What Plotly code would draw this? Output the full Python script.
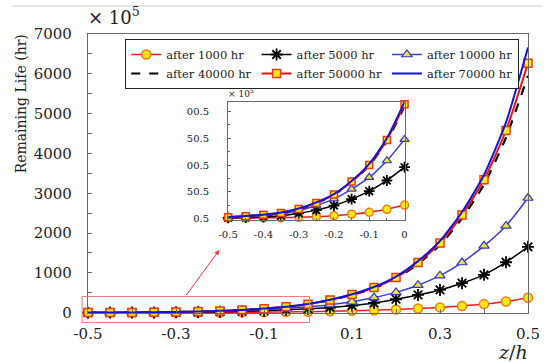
import plotly.graph_objects as go

# ---------------- data ----------------
z = [-0.5, -0.45, -0.4, -0.35, -0.3, -0.25, -0.2, -0.15, -0.1, -0.05, 0.0,
     0.05, 0.1, 0.15, 0.2, 0.25, 0.3, 0.35, 0.4, 0.45, 0.5]

life_1000 = [0.5, 0.7, 1.0, 1.4, 2.0, 3.2, 5.0, 7.8, 11.5, 17, 25,
             35, 48, 63, 82, 104, 133, 168, 215, 280, 375]
life_5000 = [1, 1.5, 2.5, 5, 9.5, 15.5, 24, 36, 51, 71, 96,
             130, 178, 245, 338, 446, 572, 741, 950, 1267, 1655]
life_10000 = [1.5, 2.5, 4.5, 8.5, 14.5, 24, 36.5, 55, 77, 108, 148,
              200, 275, 380, 510, 690, 930, 1260, 1680, 2180, 2880]
life_40000 = [2, 4, 6.5, 10, 17.5, 28.5, 44, 68, 99, 145, 210,
              312, 445, 615, 860, 1225, 1700, 2370, 3220, 4400, 5950]
life_50000 = [2.2, 4.1, 6.6, 10.3, 17.8, 29, 44.6, 69, 100, 147, 214,
              320, 455, 630, 882, 1260, 1748, 2453, 3338, 4576, 6265]
life_70000 = [2.5, 4.5, 7, 11, 18.5, 30, 45.5, 70, 102, 150, 218,
              326, 465, 645, 905, 1295, 1800, 2530, 3460, 4780, 6660]

names = ["after 1000 hr", "after 5000 hr", "after 10000 hr",
         "after 40000 hr", "after 50000 hr", "after 70000 hr"]

main_yticks = [0, 1000, 2000, 3000, 4000, 5000, 6000, 7000]
main_xticks = [-0.5, -0.3, -0.1, 0.1, 0.3, 0.5]
inset_xticks = [-0.5, -0.4, -0.3, -0.2, -0.1, 0]
inset_yticks = [0, 50, 100, 150, 200]
inset_yticktext = ["0.5", "50.5", "00.5", "50.5", "00.5"]

# ---------------- layout geometry (pixels) ----------------
W, H = 552, 362
L, R, T, B = 88, 537, 34, 313
pw, ph = R - L, B - T


def px(x):
    return (x - L) / pw


def py(y):
    return (B - y) / ph


SERIF = "DejaVu Serif"
YEL = "#ffe81a"

styles = [
    dict(line=dict(color="#ee1c1c", width=1.5),
         marker=dict(symbol="circle", size=9, color=YEL,
                     line=dict(color="#f07a10", width=1.5))),
    dict(line=dict(color="black", width=1.5),
         marker=dict(symbol="asterisk", size=10, color="black",
                     line=dict(color="black", width=1.8))),
    dict(line=dict(color="#3b3bdc", width=1.5),
         marker=dict(symbol="triangle-up", size=9, color="#e9e23a",
                     line=dict(color="#3535c8", width=1.2))),
    dict(line=dict(color="black", width=2.2, dash="dash"),
         marker=None),
    dict(line=dict(color="#ee1010", width=2),
         marker=dict(symbol="square", size=8, color=YEL,
                     line=dict(color="#ea3a10", width=1.5))),
    dict(line=dict(color="#1414d8", width=2),
         marker=None),
]
series = [life_1000, life_5000, life_10000, life_40000, life_50000, life_70000]

fig = go.Figure()
for name, vals, st in zip(names, series, styles):
    mode = "lines+markers" if st["marker"] else "lines"
    kw = dict(line=dict(st["line"], shape="spline", smoothing=0.6))
    if st["marker"]:
        kw["marker"] = st["marker"]
    fig.add_trace(go.Scatter(x=z, y=vals, mode=mode, name=name,
                             cliponaxis=False, **kw))
# inset copies
zi = [v for v in z if v <= 0]
for name, vals, st in zip(names, series, styles):
    mode = "lines+markers" if st["marker"] else "lines"
    kw = dict(line=dict(st["line"], shape="spline", smoothing=0.6))
    if st["marker"]:
        m = dict(st["marker"])
        m["size"] = m["size"] - 1
        kw["marker"] = m
    fig.add_trace(go.Scatter(x=zi, y=vals[:len(zi)], mode=mode, name=name,
                             showlegend=False, xaxis="x2", yaxis="y2",
                             cliponaxis=False, **kw))

axcol = "#6a6a6a"
fig.update_layout(
    width=W, height=H,
    margin=dict(l=L, r=W - R, t=T, b=H - B, pad=0),
    paper_bgcolor="white", plot_bgcolor="white",
    font=dict(family=SERIF, size=14, color="#222"),
    showlegend=True,
    legend=dict(orientation="h", x=px(126), y=py(39), xanchor="left",
                yanchor="top", bgcolor="white", bordercolor="#222",
                borderwidth=1, font=dict(family=SERIF, size=11.5, color="#222"),
                itemwidth=30, tracegroupgap=0, traceorder="normal"),
    xaxis=dict(range=[-0.5, 0.5], domain=[0, 1], showgrid=False,
               zeroline=False, showline=True, linecolor=axcol, linewidth=1.2,
               mirror=True, ticks="inside", ticklen=4, tickcolor=axcol,
               tickvals=main_xticks, ticktext=[str(v) for v in main_xticks],
               minor=dict(dtick=0.1, tick0=0, ticks="inside", ticklen=4,
                          tickcolor=axcol),
               ticklabelstandoff=7, tickfont=dict(size=15)),
    yaxis=dict(range=[-8, 7000], domain=[0, 1], showgrid=False,
               zeroline=False, showline=True, linecolor=axcol, linewidth=1.2,
               mirror=True, ticks="inside", ticklen=4, tickcolor=axcol,
               tickvals=main_yticks, ticktext=[str(v) for v in main_yticks],
               minor=dict(dtick=500, tick0=0, ticks="inside", ticklen=4,
                          tickcolor=axcol),
               ticklabelstandoff=12, tickfont=dict(size=15)),
    xaxis2=dict(range=[-0.5, 0], domain=[px(231), px(411)], anchor="y2",
                showgrid=False, zeroline=False, showline=True,
                linecolor=axcol, linewidth=1, mirror=True,
                ticks="inside", ticklen=3, tickcolor=axcol,
                tickvals=inset_xticks, ticktext=[str(v) for v in inset_xticks],
                minor=dict(dtick=0.05, tick0=0, ticks="inside", ticklen=2,
                           tickcolor=axcol),
                ticklabelstandoff=5, tickfont=dict(size=10)),
    yaxis2=dict(range=[-3, 218], domain=[py(220), py(102)], anchor="x2",
                showgrid=False, zeroline=False, showline=True,
                linecolor=axcol, linewidth=1, mirror=True,
                ticks="inside", ticklen=3, tickcolor=axcol,
                tickvals=inset_yticks, ticktext=inset_yticktext,
                minor=dict(dtick=25, tick0=0, ticks="inside", ticklen=2,
                           tickcolor=axcol),
                ticklabelstandoff=16, tickfont=dict(size=10)),
)

# top separator line
fig.add_shape(type="line", xref="paper", yref="paper",
              x0=px(10), x1=px(552), y0=py(6), y1=py(6),
              line=dict(color="#cccccc", width=1))
# zoom rectangle and arrow
fig.add_shape(type="rect", xref="paper", yref="paper", x0=px(82), x1=px(314),
              y0=py(322.5), y1=py(296.5), line=dict(color="#ee7a7a", width=1))
fig.add_annotation(x=px(222), y=py(250), ax=188 - 222, ay=296.5 - 250,
                   xref="paper", yref="paper", axref="pixel", ayref="pixel",
                   text="", showarrow=True,
                   arrowhead=2, arrowsize=1, arrowwidth=1,
                   arrowcolor="#ee3a3a")

# texts
fig.add_annotation(xref="paper", yref="paper", x=px(86), y=py(30),
                   xanchor="left", yanchor="bottom", showarrow=False,
                   text="× 10<sup>5</sup>", font=dict(size=18, color="#222"))
fig.add_annotation(xref="paper", yref="paper", x=px(229), y=py(101),
                   xanchor="left", yanchor="bottom", showarrow=False,
                   text="× 10<sup>5</sup>", font=dict(size=9, color="#222"))
fig.add_annotation(xref="paper", yref="paper", x=px(20), y=py(104),
                   xanchor="center", yanchor="middle", showarrow=False,
                   textangle=-90, text="Remaining Life (hr)",
                   font=dict(size=14, color="#222"))
fig.add_annotation(xref="paper", yref="paper", x=px(522), y=py(352),
                   xanchor="center", yanchor="middle", showarrow=False,
                   text="<i>z</i>/<i>h</i>", font=dict(size=19, color="#222"))

fig.write_html("out.html")
